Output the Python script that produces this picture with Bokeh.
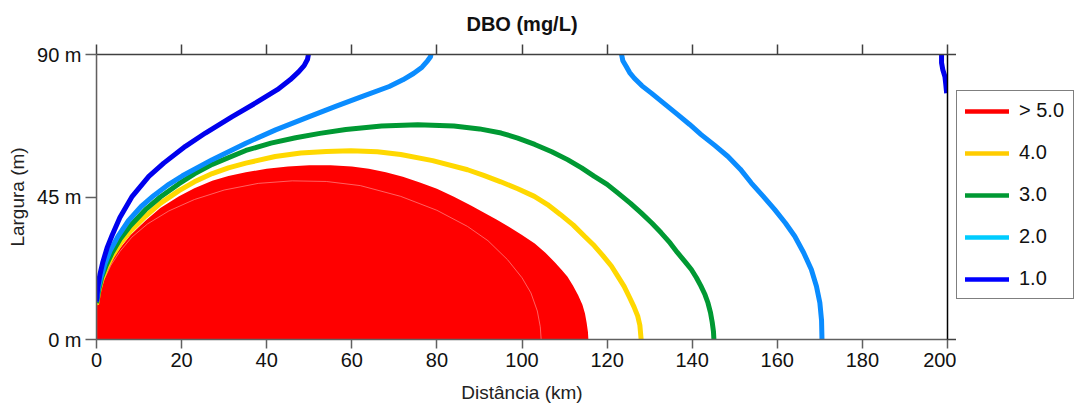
from bokeh.plotting import figure
from bokeh.layouts import row
from bokeh.models import (Range1d, LinearAxis, FixedTicker, Legend, LegendItem,
                          CustomJSTickFormatter)
from bokeh.embed import file_html
from bokeh.resources import INLINE

# ---------------- data ----------------
x_ticks = [0, 20, 40, 60, 80, 100, 120, 140, 160, 180, 200]
y_ticks = [0, 45, 90]
y_tick_labels = ["0 m", "45 m", "90 m"]

legend_labels = ["> 5.0", "4.0", "3.0", "2.0", "1.0"]
legend_colors = ["#ff0000", "#ffcc00", "#009933", "#00ccff", "#0000ff"]

# > 5.0 filled region (outer boundary, closed on the bottom edge)
red_x = [0, 0, 0.5, 1.2, 2.3, 3.7, 5.6, 8, 11.5, 15, 19.4, 23, 27.2, 31, 35.1,
         40, 45, 50, 55, 60, 64, 68, 72, 76, 80, 84, 88, 91.1, 94, 97, 100,
         103, 105.5, 107.7, 109.4, 110.7, 112, 113.2, 114.2, 114.8, 115.2,
         115.5, 115.6]
red_y = [0, 10.5, 14, 17.8, 21.5, 25.2, 29, 33, 37.5, 41.5, 45.2, 47.8, 50.1,
         51.6, 52.8, 53.9, 54.6, 55, 55, 54.6, 53.9, 52.8, 51.4, 49.6, 47.6,
         45.1, 42.3, 40, 37.9, 35.5, 33, 30.3, 27.4, 24.4, 21.9, 19.8, 17,
         14, 11, 8.2, 5.2, 2.4, 0]

# inner seam of the > 5.0 region
seam_x = [0, 0.7, 1.8, 3.4, 5.5, 8.3, 12, 17, 23, 30, 38, 46, 54, 62, 71.5,
          80, 87.2, 92, 96.6, 100, 102.1, 103.6, 104.3, 104.5]
seam_y = [10.5, 14.5, 19, 23.5, 27.8, 32.3, 36.5, 40.6, 44.2, 47.2, 49.3,
          50.1, 49.9, 48.6, 45.2, 40.8, 35.7, 31.2, 25.2, 19.5, 14.7, 9, 4, 0]

# 4.0 contour
c4_x = [0, 0.5, 1.2, 2.3, 3.7, 5.6, 8, 11.5, 15, 19.4, 23, 27.2, 31, 35.1, 42,
        48, 54, 59.8, 66, 71.5, 79, 87.2, 91, 95, 99, 102.9, 106, 109, 112,
        114.7, 117, 119, 121, 122.5, 124, 125.2, 126.3, 127.2, 127.7, 128]
c4_y = [11, 15, 18.8, 22.5, 26.3, 30.3, 34.3, 38.9, 43, 47, 49.8, 52.4, 54.2,
        55.7, 57.8, 58.9, 59.4, 59.6, 59.3, 58.4, 56.5, 53.6, 51.8, 49.8, 47.6,
        45.2, 42.6, 39.5, 36.2, 32.6, 29.6, 26.5, 23.2, 20, 16.8, 13.5, 10.4,
        7.4, 4.5, 0]

# 3.0 contour
c3_x = [0, 0.5, 1.2, 2.3, 3.7, 5.6, 8, 11.5, 15, 19.4, 23, 27.2, 35.1, 41,
        46.8, 52.5, 58.6, 67, 75.5, 84, 90, 95.1, 99, 103, 107, 110.7, 114,
        117, 120, 122.5, 125.5, 128, 130.5, 132.7, 134.8, 136.5, 138.3, 139.8,
        141, 142, 143, 143.7, 144.3, 144.7, 145, 145.1]
c3_y = [11.5, 15.5, 19.5, 23.5, 27.5, 31.8, 36, 41, 45, 49.2, 52.3, 55.3, 59.7,
        62, 63.7, 65.1, 66.3, 67.4, 67.8, 67.4, 66.5, 65.2, 63.6, 61.6, 59.3,
        56.8, 54.2, 51.5, 49, 46.3, 43, 40, 36.8, 33.7, 30.5, 27.5, 24.6, 22.1,
        19.5, 17, 14.2, 11.6, 8.5, 5.5, 2.5, 0]

# 2.0 contour (two branches)
c2a_x = [0, 0.4, 1, 2, 3.2, 5, 7.5, 10.5, 13.5, 17, 20.2, 27.2, 35.1, 42.1, 50,
         56.2, 62.5, 68.8, 72, 74.5, 76.5, 77.8, 78.5, 78.6]
c2a_y = [12, 16, 19.5, 24, 28, 32.5, 37.5, 42, 45.5, 49, 51.7, 56.8, 62, 66.2,
         70.4, 73.6, 76.8, 79.9, 82, 84, 86, 88, 89.3, 90]
c2b_x = [123.4, 123.7, 124.5, 125.3, 126.4, 128.2, 130.4, 133.5, 136.6, 139.4,
         142.1, 145.3, 148.4, 151.3, 153.9, 156.7, 159.4, 161.9, 164.1, 166.2,
         168, 169.2, 170, 170.4, 170.5]
c2b_y = [90, 88, 86.2, 84.3, 82.5, 80.1, 77.8, 74.4, 71, 67.9, 64.7, 61.3,
         57.8, 53.8, 49.4, 45.2, 41, 36.8, 32.6, 27.4, 22.1, 16.8, 11.6, 6, 0]

# 1.0 contour (two branches)
c1a_x = [0, 0.3, 0.8, 1.5, 2.5, 3.7, 5.5, 8.4, 12.3, 15.8, 20.9, 25.6, 31.9,
         37.4, 42.5, 45.5, 47.5, 48.8, 49.6, 49.8]
c1a_y = [12, 16.5, 20.5, 24.5, 29, 33, 38.5, 45.2, 51.5, 55.7, 61, 65.2, 70.4,
         74.7, 78.9, 82, 84.5, 86.5, 88.5, 90]
c1b_x = [198.6, 198.6, 198.9, 199.4, 199.6, 199.8]
c1b_y = [90, 87.4, 85.2, 83, 80.5, 77.8]

# faint contour along the left bank
edge_x = [0, 0]
edge_y = [0, 90]

# ---------------- styling constants ----------------
FONT = "Liberation Sans"
AX = "#606060"
blank = CustomJSTickFormatter(code="return ''")

# ---------------- main figure ----------------
p = figure(width=956, height=405,
           x_range=Range1d(0, 200), y_range=Range1d(0, 90),
           output_backend="svg", toolbar_location=None,
           min_border_left=96, min_border_right=9,
           min_border_top=54, min_border_bottom=66,
           title="DBO (mg/L)")
p.grid.visible = False
p.outline_line_color = None
p.background_fill_color = "white"

p.title.align = "center"
p.title.text_font = FONT
p.title.text_font_size = "20px"
p.title.text_font_style = "bold"
p.title.text_color = "#111111"
p.title.standoff = 20

# bottom axis
xa = p.xaxis[0]
xa.ticker = FixedTicker(ticks=x_ticks)
xa.major_tick_out = 9
xa.major_tick_in = 0
xa.minor_tick_out = 0
xa.minor_tick_in = 0
xa.axis_line_color = AX
xa.axis_line_width = 1.5
xa.major_tick_line_color = AX
xa.major_tick_line_width = 1.5
xa.major_label_text_font = FONT
xa.major_label_text_font_size = "20px"
xa.major_label_text_color = "#111111"
xa.major_label_standoff = 4
xa.axis_label = "Distância (km)"
xa.axis_label_text_font = FONT
xa.axis_label_text_font_size = "19px"
xa.axis_label_text_font_style = "normal"
xa.axis_label_text_color = "#222222"
xa.axis_label_standoff = 12

# left axis
ya = p.yaxis[0]
ya.ticker = FixedTicker(ticks=y_ticks)
ya.major_label_overrides = {t: s for t, s in zip(y_ticks, y_tick_labels)}
ya.major_tick_out = 11
ya.major_tick_in = 0
ya.minor_tick_out = 0
ya.minor_tick_in = 0
ya.axis_line_color = AX
ya.axis_line_width = 1.5
ya.major_tick_line_color = AX
ya.major_tick_line_width = 1.5
ya.major_label_text_font = FONT
ya.major_label_text_font_size = "20px"
ya.major_label_text_color = "#111111"
ya.major_label_standoff = 4
ya.axis_label = "Largura (m)"
ya.axis_label_text_font = FONT
ya.axis_label_text_font_size = "19px"
ya.axis_label_text_font_style = "normal"
ya.axis_label_text_color = "#222222"
ya.axis_label_standoff = 6

# top axis (ticks only)
top = LinearAxis(ticker=FixedTicker(ticks=x_ticks), formatter=blank,
                 major_tick_out=10, major_tick_in=0,
                 minor_tick_out=0, minor_tick_in=0,
                 axis_line_color="#404040", axis_line_width=1.5,
                 major_tick_line_color="#404040", major_tick_line_width=1.5,
                 major_label_standoff=0)
p.add_layout(top, "above")

# right axis (line, with ticks only at the two banks)
right = LinearAxis(ticker=FixedTicker(ticks=[0, 90]), formatter=blank,
                   major_tick_out=9, major_tick_in=0,
                   minor_tick_out=0, minor_tick_in=0,
                   axis_line_color="#000000", axis_line_width=1.5,
                   major_tick_line_color="#404040", major_tick_line_width=1.5,
                   major_label_standoff=0)
p.add_layout(right, "right")

# marks
p.patch(red_x, red_y, fill_color="#ff0000", line_color=None)
p.line(seam_x, seam_y, line_color="#ff7a7a", line_width=0.8)
p.line(edge_x, edge_y, line_color="#e89a9a", line_width=1.2)

W = 5
p.line(c4_x, c4_y, line_color="#ffd800", line_width=W)
p.line(c3_x, c3_y, line_color="#009933", line_width=W)
p.line(c2a_x, c2a_y, line_color="#0a8cff", line_width=W)
p.line(c2b_x, c2b_y, line_color="#0a8cff", line_width=W)
p.line(c1a_x, c1a_y, line_color="#0000ee", line_width=W)
p.line(c1b_x, c1b_y, line_color="#0000ee", line_width=W)

# ---------------- legend panel (frame is aligned with the main plot) ----------------
q = figure(width=118, height=405, x_range=Range1d(0, 1), y_range=Range1d(0, 1),
           output_backend="svg", toolbar_location=None,
           x_axis_type=None, y_axis_type=None,
           min_border_left=0, min_border_right=0,
           min_border_top=0, min_border_bottom=0)
q.grid.visible = False
q.outline_line_color = None
q.background_fill_color = "white"

nan = float("nan")
items = []
for lab, col in zip(legend_labels, legend_colors):
    r = q.line([nan], [nan], line_color=col, line_width=4.5, line_cap="round")
    items.append(LegendItem(label=lab, renderers=[r]))

legend = Legend(items=items, location=(0, 40),
                border_line_color="#000000", border_line_width=1.5,
                background_fill_color="white", background_fill_alpha=1.0,
                label_text_font=FONT, label_text_font_size="20px",
                label_text_color="#111111",
                glyph_width=44, glyph_height=20, label_height=20,
                label_width=46,
                label_standoff=10, spacing=19, padding=8, margin=0)
q.add_layout(legend)

layout = row(p, q, spacing=0)
open("out.html", "w").write(file_html(layout, INLINE))
